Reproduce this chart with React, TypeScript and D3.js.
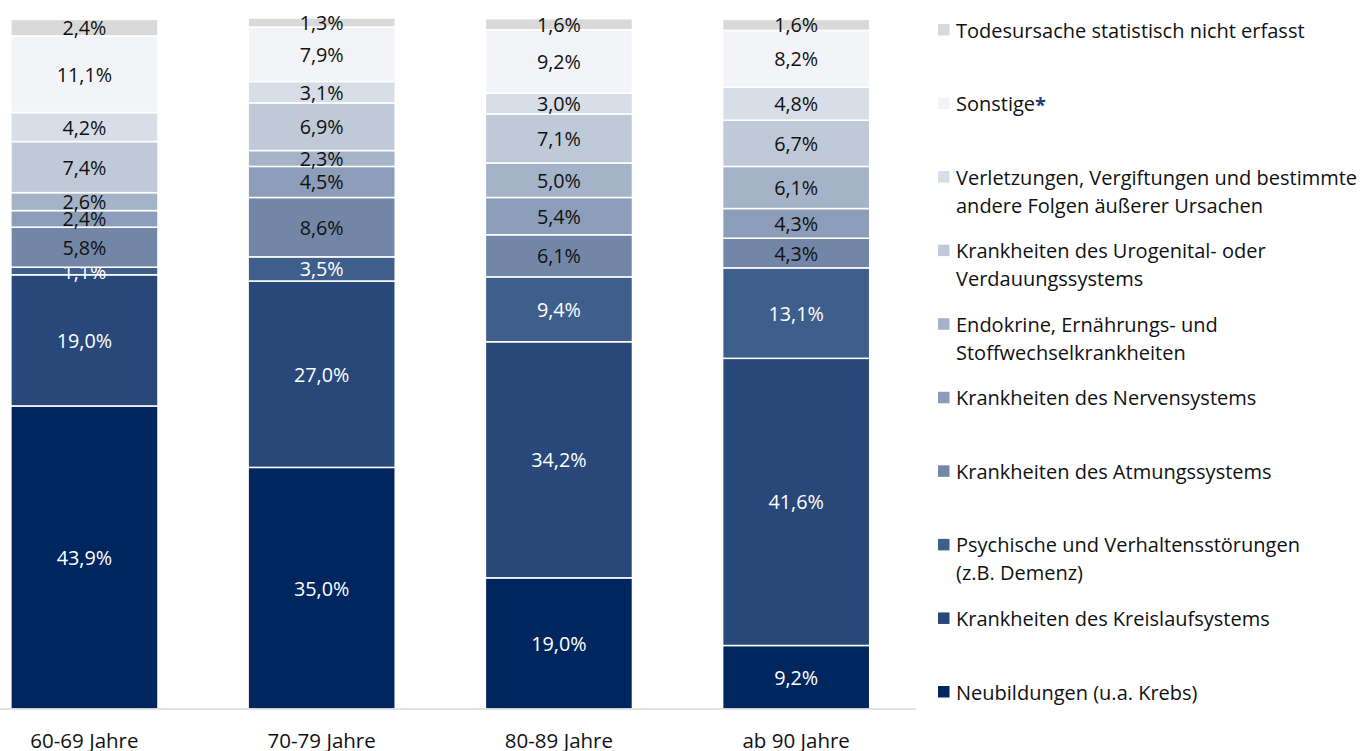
import React from "react";
import * as d3 from "d3";

const categories = ["60-69 Jahre", "70-79 Jahre", "80-89 Jahre", "ab 90 Jahre"];

const seriesNames = [
  "Neubildungen (u.a. Krebs)",
  "Krankheiten des Kreislaufsystems",
  "Psychische und Verhaltensstörungen (z.B. Demenz)",
  "Krankheiten des Atmungssystems",
  "Krankheiten des Nervensystems",
  "Endokrine, Ernährungs- und Stoffwechselkrankheiten",
  "Krankheiten des Urogenital- oder Verdauungssystems",
  "Verletzungen, Vergiftungen und bestimmte andere Folgen äußerer Ursachen",
  "Sonstige",
  "Todesursache statistisch nicht erfasst",
];

const neubildungen = [43.9, 35.0, 19.0, 9.2];
const kreislauf = [19.0, 27.0, 34.2, 41.6];
const psychische = [1.1, 3.5, 9.4, 13.1];
const atmung = [5.8, 8.6, 6.1, 4.3];
const nerven = [2.4, 4.5, 5.4, 4.3];
const endokrine = [2.6, 2.3, 5.0, 6.1];
const urogenital = [7.4, 6.9, 7.1, 6.7];
const verletzungen = [4.2, 3.1, 3.0, 4.8];
const sonstige = [11.1, 7.9, 9.2, 8.2];
const nichtErfasst = [2.4, 1.3, 1.6, 1.6];

const seriesValues = [
  neubildungen, kreislauf, psychische, atmung, nerven,
  endokrine, urogenital, verletzungen, sonstige, nichtErfasst,
];

const colors = [
  "#002660", "#28487a", "#3e5e8c", "#7287a7", "#8b9db8",
  "#a5b3c8", "#c0c9d7", "#d8dee7", "#f2f4f8", "#d9d9d9",
];
const labelColors = [
  "#ffffff", "#ffffff", "#ffffff", "#111", "#111",
  "#111", "#111", "#111", "#111", "#111",
];

// legend lines (top to bottom)
const legendLines: string[][] = [
  ["Todesursache statistisch nicht erfasst"],
  ["Sonstige"],
  ["Verletzungen, Vergiftungen und bestimmte", "andere Folgen äußerer Ursachen"],
  ["Krankheiten des Urogenital- oder", "Verdauungssystems"],
  ["Endokrine, Ernährungs- und", "Stoffwechselkrankheiten"],
  ["Krankheiten des Nervensystems"],
  ["Krankheiten des Atmungssystems"],
  ["Psychische und Verhaltensstörungen", "(z.B. Demenz)"],
  ["Krankheiten des Kreislaufsystems"],
  ["Neubildungen (u.a. Krebs)"],
];

const W = 1369;
const H = 751;
const FONT = "'Open Sans', 'Noto Sans', sans-serif";

export default function App() {
  const x = d3.scaleBand<string>().domain(categories).range([-34.2, 914.8]).paddingInner(0.38).paddingOuter(0.19);
  const y = d3.scaleLinear().domain([0, 100]).range([709, 18.7]);

  const table = categories.map((c, i) => {
    const row: any = { cat: c };
    seriesNames.forEach((s, j) => (row[s] = seriesValues[j][i]));
    return row;
  });
  const stacked = d3.stack<any>().keys(seriesNames)(table);

  const legendY = d3.scaleLinear().domain([0, 9]).range([30, 692]);
  const fmt = (v: number) => v.toFixed(1).replace(".", ",") + "%";

  return (
    <svg width={W} height={H} style={{ position: "absolute", left: 0, top: 0, background: "#fff" }} fontFamily={FONT}>
      {stacked.map((layer, j) => (
        <g key={j}>
          {layer.map((d, i) => {
            const x0 = x(categories[i])!;
            const yTop = y(d[1]);
            const yBot = y(d[0]);
            return (
              <g key={i}>
                <rect x={x0} y={yTop} width={x.bandwidth()} height={yBot - yTop} fill={colors[j]} stroke="#ffffff" strokeWidth={1.5} />
                <text x={x0 + x.bandwidth() / 2} y={(yTop + yBot) / 2} textAnchor="middle" dominantBaseline="central" fontSize={19.8} fill={labelColors[j]}>
                  {fmt(seriesValues[j][i])}
                </text>
              </g>
            );
          })}
        </g>
      ))}
      <line x1={0} x2={916} y1={709} y2={709} stroke="#d9d9d9" strokeWidth={1.3} />
      {categories.map((c) => (
        <text key={c} x={x(c)! + x.bandwidth() / 2} y={740} textAnchor="middle" dominantBaseline="central" fontSize={20.5} fill="#111">
          {c}
        </text>
      ))}
      {legendLines.map((lines, k) => {
        const sIdx = 9 - k;
        const ly = legendY(k);
        return (
          <g key={k}>
            <rect x={938} y={ly - 6} width={11.5} height={11.5} fill={colors[sIdx]} />
            {lines.map((ln, m) => (
              <text key={m} x={956} y={ly + m * 28} dominantBaseline="central" fontSize={20} fill="#111">
                {ln}
                {sIdx === 8 ? <tspan fill="#1f3a78" fontWeight="bold">*</tspan> : null}
              </text>
            ))}
          </g>
        );
      })}
    </svg>
  );
}
